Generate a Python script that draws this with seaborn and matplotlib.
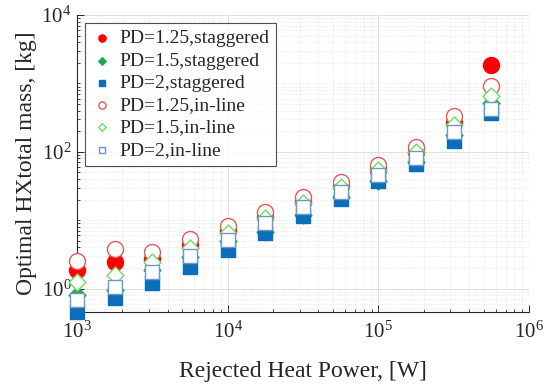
import matplotlib
matplotlib.use("Agg")
import matplotlib.pyplot as plt
import matplotlib.ticker as mticker
import seaborn as sns
import pandas as pd

# Rejected heat power [W]
heat_power = [1000, 1778, 3162, 5623, 10000, 17783, 31623, 56234,
              100000, 177828, 316228, 562341]

# Optimal heat-exchanger total mass [kg]
mass_pd125_staggered = [1.89, 2.48, 2.74, 4.4, 7.0, 11.2, 18.6, 31.8, 54.6, 100, 265, 1890]
mass_pd15_staggered = [0.80, 0.95, 1.9, 2.9, 5.0, 6.8, 12.0, 22.0, 37.8, 71.5, 178, 510]
mass_pd2_staggered = [0.45, 0.74, 1.22, 2.09, 3.71, 6.46, 11.7, 20.6, 37.8, 65.8, 145, 371]
mass_pd125_inline = [2.51, 3.84, 3.47, 5.28, 8.3, 13.3, 22.0, 36.5, 63.6, 117, 339, 903]
mass_pd15_inline = [1.26, 1.60, 2.48, 3.97, 6.6, 10.9, 18.0, 30.8, 54.0, 100, 248, 657]
mass_pd2_inline = [0.69, 1.07, 1.77, 3.03, 5.07, 9.0, 15.5, 26.0, 45.4, 81.7, 194, 417]

series_labels = ["PD=1.25,staggered", "PD=1.5,staggered", "PD=2,staggered",
                 "PD=1.25,in-line", "PD=1.5,in-line", "PD=2,in-line"]

sns.set_theme(style="white")
plt.rcParams["font.family"] = ["Liberation Serif", "DejaVu Serif"]
plt.rcParams["mathtext.fontset"] = "custom"
plt.rcParams["mathtext.rm"] = "Liberation Serif"
plt.rcParams["mathtext.it"] = "Liberation Serif:italic"

fig = plt.figure(figsize=(5.5, 3.85), dpi=100)
ax = fig.add_axes([0.14, 0.19, 0.822, 0.771])

# (values, marker, size, face, edge)
styles = [
    (mass_pd125_staggered, "o", 11.5, "#ff0000", "#ff0000"),
    (mass_pd15_staggered, "D", 8.6, "#1faa4a", "#1faa4a"),
    (mass_pd2_staggered, "s", 9.6, "#0a6fb8", "#0a6fb8"),
    (mass_pd125_inline, "o", 11.5, "white", "#e05a5a"),
    (mass_pd15_inline, "D", 8.6, "white", "#6fdc5f"),
    (mass_pd2_inline, "s", 9.6, "white", "#6d97c4"),
]

for (vals, mk, ms, fc, ec), lab in zip(styles, series_labels):
    df = pd.DataFrame({"power": heat_power, "mass": vals})
    sns.scatterplot(data=df, x="power", y="mass", ax=ax, marker=mk,
                    s=ms ** 2, color=fc, edgecolor=ec, linewidth=1.0,
                    label=lab, clip_on=False, zorder=3)

ax.set_xscale("log")
ax.set_yscale("log")
ax.set_xlim(1e3, 1e6)
ax.set_ylim(10 ** -0.34, 1e4)

ax.xaxis.set_major_locator(mticker.FixedLocator([1e3, 1e4, 1e5, 1e6]))
ax.xaxis.set_minor_locator(mticker.LogLocator(base=10, subs=range(2, 10), numticks=20))
ax.yaxis.set_major_locator(mticker.FixedLocator([1e0, 1e2, 1e4]))
ax.yaxis.set_minor_locator(mticker.LogLocator(base=10, subs=range(1, 10), numticks=30))
fmt = mticker.LogFormatterMathtext(base=10)
ax.xaxis.set_major_formatter(fmt)
ax.yaxis.set_major_formatter(fmt)
ax.yaxis.set_minor_formatter(mticker.NullFormatter())
ax.xaxis.set_minor_formatter(mticker.NullFormatter())

ax.grid(which="major", color="#d9d9d9", linewidth=0.6, linestyle="-")
ax.grid(which="minor", color="#e2e2e2", linewidth=0.6, linestyle=":")
ax.set_axisbelow(True)

for side in ("top", "right"):
    ax.spines[side].set_visible(False)
for side in ("left", "bottom"):
    ax.spines[side].set_color("#262626")
    ax.spines[side].set_linewidth(0.8)

ax.tick_params(which="both", direction="in", colors="#262626",
               left=True, bottom=True, labelsize=15)
ax.tick_params(which="major", length=5, width=0.7)
ax.tick_params(axis="x", which="major", pad=7)
ax.tick_params(axis="y", which="major", pad=4)
ax.tick_params(which="minor", length=2.5, width=0.6)

ax.set_xlabel("Rejected Heat Power, [W]", fontsize=17, color="#262626", labelpad=13)
ax.set_ylabel("Optimal HXtotal mass, [kg]", fontsize=17, color="#262626", labelpad=3)

leg = ax.legend(loc="upper left", bbox_to_anchor=(0.018, 0.973), fontsize=14,
                markerscale=0.45, frameon=True, fancybox=False, borderpad=0.35,
                labelspacing=0.24, handletextpad=0.4, handlelength=1.0,
                borderaxespad=0.0)
leg.get_frame().set_edgecolor("#262626")
leg.get_frame().set_linewidth(0.8)
for txt in leg.get_texts():
    txt.set_color("#262626")

fig.savefig("out.png", dpi=100)
